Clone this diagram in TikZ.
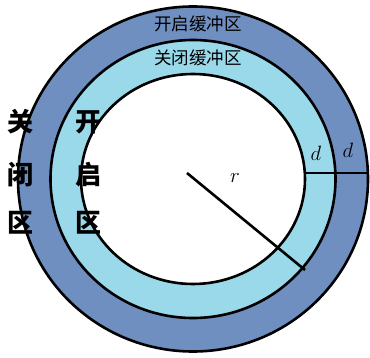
\documentclass[tikz,border=0pt]{standalone}
\usepackage{fontspec}
\newfontfamily\cjk{Noto Sans CJK SC}
\usepackage{xcolor}
\usepackage{tikz}
\definecolor{outerblue}{RGB}{111,143,192}
\definecolor{innerblue}{RGB}{154,217,234}

\begin{document}
\begin{tikzpicture}[x=1pt,y=1pt,
  ring/.style={draw=black,line width=2.6pt},
  bandtext/.style={font=\cjk\fontsize{17.5}{17.5}\selectfont,inner sep=0pt},
  zonetext/.style={font=\cjk\bfseries\fontsize{26}{26}\selectfont,inner sep=0pt},
  mathlabel/.style={font=\fontsize{21}{21}\selectfont,inner sep=0pt}]
  \useasboundingbox (0,0) rectangle (370,357);
  \coordinate (c) at (193,178);
  % rings
  \fill[outerblue] (c) ellipse [x radius=175,y radius=172.5];
  \fill[innerblue] (c) ellipse [x radius=142.5,y radius=139];
  \fill[white] (c) ellipse [x radius=112,y radius=105];
  \draw[ring] (c) ellipse [x radius=175,y radius=172.5];
  \draw[ring] (c) ellipse [x radius=142.5,y radius=139];
  \draw[ring] (c) ellipse [x radius=112,y radius=105];
  % radius and widths
  \coordinate (o) at (187,184);
  \coordinate (rend) at (305,87);
  \coordinate (din) at (305,184);
  \coordinate (dout) at (368,184);
  \draw[line width=2.6pt] (o) -- (rend);
  \draw[line width=2.6pt] (din) -- (dout);
  \node[mathlabel] (r) at (235,179) {$r$};
  \node[mathlabel] (d1) at (316,204) {$d$};
  \node[mathlabel] (d2) at (348,207) {$d$};
  % band names
  \node[bandtext] (open) at (198,333) {开启缓冲区};
  \node[bandtext] (close) at (198,299) {关闭缓冲区};
  % zone names
  \node[zonetext] (z1) at (20,235) {关};
  \node[zonetext] (z2) at (20,182) {闭};
  \node[zonetext] (z3) at (20,134) {区};
  \node[zonetext] (k1) at (88,235) {开};
  \node[zonetext] (k2) at (88,182) {启};
  \node[zonetext] (k3) at (88,134) {区};
\end{tikzpicture}
\end{document}
